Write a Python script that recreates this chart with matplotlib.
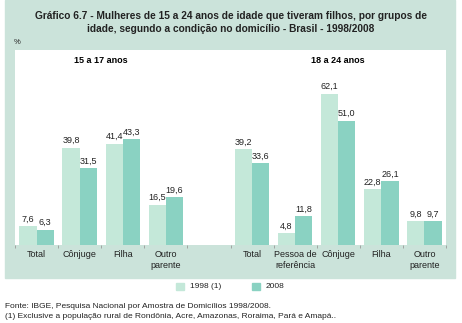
import matplotlib.pyplot as plt
import matplotlib.patches as mpatches
import numpy as np

plt.rcParams['font.family'] = ['Liberation Sans', 'DejaVu Sans']

# dados
categorias = ["Total", "Cônjuge", "Filha", "Outro\nparente", "",
              "Total", "Pessoa de\nreferência", "Cônjuge", "Filha", "Outro\nparente"]
v1998 = [7.6, 39.8, 41.4, 16.5, None, 39.2, 4.8, 62.1, 22.8, 9.8]
v2008 = [6.3, 31.5, 43.3, 19.6, None, 33.6, 11.8, 51.0, 26.1, 9.7]
grupos = ["15 a 17 anos", "18 a 24 anos"]
series = ["1998 (1)", "2008"]

cor_fundo = "#cbe3da"
cor_1998 = "#c4e8d9"
cor_2008 = "#8ad2c2"

W, H = 462, 323
fig = plt.figure(figsize=(W / 100, H / 100), dpi=100, facecolor="white")

# painel verde
fig.patches.append(mpatches.Rectangle((5 / W, 1 - 278 / H), 450 / W, 278 / H,
                                      transform=fig.transFigure, color=cor_fundo, zorder=-5))

ax = fig.add_axes([15 / W, 1 - 245 / H, 431 / W, 195 / H])
ax.set_zorder(2)
ax.set_facecolor("white")

x = np.arange(len(categorias))
w = 0.4
for i in range(len(categorias)):
    if v1998[i] is None:
        continue
    b1 = ax.bar(x[i] - w / 2, v1998[i], w, color=cor_1998)
    b2 = ax.bar(x[i] + w / 2, v2008[i], w, color=cor_2008)
    for b, v in ((b1[0], v1998[i]), (b2[0], v2008[i])):
        ax.annotate(f"{v:.1f}".replace(".", ","), (b.get_x() + b.get_width() / 2, v),
                    xytext=(0, 2), textcoords="offset points", ha="center", va="bottom",
                    fontsize=6.5, color="#222222")

ax.set_xlim(-0.5, 9.5)
ax.set_ylim(0, 80)
ax.set_yticks([])
ax.set_xticks(np.arange(-0.5, 10, 1))
ax.set_xticklabels([])
ax.tick_params(axis="x", length=2, width=0.6, color="#999999")
for s in ax.spines.values():
    s.set_visible(False)

for i, c in enumerate(categorias):
    ax.text(x[i], -2.2, c, ha="center", va="top", fontsize=6.5, color="#222222",
            linespacing=1.3, clip_on=False)

ax.text(1.5, 75.5, grupos[0], ha="center", va="center", fontsize=6.5, fontweight="bold")
ax.text(7, 75.5, grupos[1], ha="center", va="center", fontsize=6.5, fontweight="bold")

fig.text(231 / W, 1 - 22.5 / H,
         "Gráfico 6.7 - Mulheres de 15 a 24 anos de idade que tiveram filhos, por grupos de\n"
         "idade, segundo a condição no domicílio - Brasil - 1998/2008",
         ha="center", va="center", fontsize=7.3, fontweight="bold", color="#222222",
         linespacing=1.45)
fig.text(14 / W, 1 - 42 / H, "%", ha="left", va="center", fontsize=5.5, color="#222222")

# legenda
for xs, cor, rot in ((176, cor_1998, series[0]), (252, cor_2008, series[1])):
    fig.patches.append(mpatches.Rectangle((xs / W, 1 - 290 / H), 8 / W, 7 / H,
                                          transform=fig.transFigure, color=cor))
    fig.text((xs + 14) / W, 1 - 286.5 / H, rot, ha="left", va="center", fontsize=6,
             color="#222222")

fig.text(5 / W, 1 - 306 / H,
         "Fonte: IBGE, Pesquisa Nacional por Amostra de Domicílios 1998/2008.",
         ha="left", va="center", fontsize=6, color="#222222")
fig.text(5 / W, 1 - 317 / H,
         "(1) Exclusive a população rural de Rondônia, Acre, Amazonas, Roraima, Pará e Amapá..",
         ha="left", va="center", fontsize=6, color="#222222")

fig.savefig("out.png", dpi=100)
